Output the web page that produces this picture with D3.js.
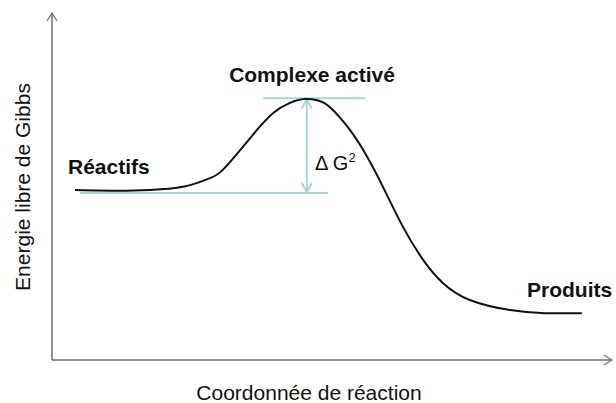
<!DOCTYPE html>
<html><head><meta charset="utf-8">
<script src="https://cdn.jsdelivr.net/npm/d3@7"></script>
<style>html,body{margin:0;padding:0;background:#fff;}svg{display:block;}</style>
</head><body>
<svg id="chart" width="616" height="403"></svg>
<script>
// Data (reaction coordinate 0-100, free energy 0-100)
const curveX = [4.1, 12.1, 17.5, 23.4, 28.2, 30.5, 33.6, 36.6, 39.5, 42.5, 45.2, 47.5, 49.6, 53.2, 56.3, 59.1, 62.7, 66.3, 69.8, 74.6, 81.8, 88.0, 94.6];
const curveY = [49.0, 48.8, 49.0, 49.9, 52.4, 54.8, 60.5, 66.3, 71.2, 74.1, 75.2, 74.8, 72.9, 66.3, 58.5, 49.9, 38.3, 28.8, 22.2, 17.3, 14.4, 13.5, 13.5];
const reactantLevel = 48.1;
const activatedLevel = 75.4;
const reactantLineX = [5.0, 49.3];
const activatedLineX = [37.7, 55.9];
const deltaArrowX = 45.5;
const labels = ["Réactifs", "Complexe activé", "Produits"];
const xTitle = "Coordonnée de réaction";
const yTitle = "Energie libre de Gibbs";

const svg = d3.select("#chart");
const x = d3.scaleLinear().domain([0, 100]).range([52, 612]);
const y = d3.scaleLinear().domain([0, 100]).range([360, 13]);
const axisColor = "#6f6f6f";
const blue = "#a6d6da";

// axes
svg.append("line").attr("x1", x(0)).attr("y1", y(0)).attr("x2", x(0)).attr("y2", y(100))
  .attr("stroke", axisColor).attr("stroke-width", 1.5);
svg.append("line").attr("x1", x(0)).attr("y1", y(0)).attr("x2", x(100)).attr("y2", y(0))
  .attr("stroke", axisColor).attr("stroke-width", 1.5);
svg.append("path").attr("d", `M${x(0)-5},${y(100)+8} L${x(0)},${y(100)} L${x(0)+5},${y(100)+8}`)
  .attr("fill", "none").attr("stroke", axisColor).attr("stroke-width", 1.2);
svg.append("path").attr("d", `M${x(100)-8},${y(0)-5} L${x(100)},${y(0)} L${x(100)-8},${y(0)+5}`)
  .attr("fill", "none").attr("stroke", axisColor).attr("stroke-width", 1.2);

// level lines
svg.append("line").attr("x1", x(reactantLineX[0])).attr("x2", x(reactantLineX[1]))
  .attr("y1", y(reactantLevel)).attr("y2", y(reactantLevel)).attr("stroke", blue).attr("stroke-width", 2);
svg.append("line").attr("x1", x(activatedLineX[0])).attr("x2", x(activatedLineX[1]))
  .attr("y1", y(activatedLevel)).attr("y2", y(activatedLevel)).attr("stroke", blue).attr("stroke-width", 2);

// double arrow
const ax = x(deltaArrowX), yTop = y(activatedLevel) + 1, yBot = y(reactantLevel) - 1;
svg.append("line").attr("x1", ax).attr("x2", ax).attr("y1", yTop).attr("y2", yBot)
  .attr("stroke", blue).attr("stroke-width", 2);
svg.append("path").attr("d", `M${ax-5},${yTop+9} L${ax},${yTop} L${ax+5},${yTop+9}`)
  .attr("fill", "none").attr("stroke", blue).attr("stroke-width", 2);
svg.append("path").attr("d", `M${ax-5},${yBot-9} L${ax},${yBot} L${ax+5},${yBot-9}`)
  .attr("fill", "none").attr("stroke", blue).attr("stroke-width", 2);

// curve
const pts = curveX.map((d, i) => [d, curveY[i]]);
svg.append("path").datum(pts)
  .attr("d", d3.line().x(d => x(d[0])).y(d => y(d[1])).curve(d3.curveNatural))
  .attr("fill", "none").attr("stroke", "#111").attr("stroke-width", 2);

// labels
const bold = {"font-family": "'Liberation Sans', Arial, sans-serif", "font-weight": "bold", "font-size": "21px", "fill": "#111"};
function lab(t, px, py, anchor) {
  const e = svg.append("text").text(t).attr("x", px).attr("y", py).attr("text-anchor", anchor);
  Object.entries(bold).forEach(([k, v]) => e.attr(k, v));
}
lab(labels[0], 68, 174, "start");
lab(labels[1], 312, 82, "middle");
lab(labels[2], 527, 297, "start");

const dg = svg.append("text").attr("x", 315).attr("y", 170)
  .attr("font-family", "'Liberation Sans', Arial, sans-serif").attr("font-size", "20px").attr("fill", "#111");
dg.append("tspan").text("Δ G");
dg.append("tspan").text("2").attr("font-size", "13px").attr("dy", -8);

svg.append("text").text(xTitle).attr("x", 309).attr("y", 400).attr("text-anchor", "middle")
  .attr("font-family", "'Liberation Sans', Arial, sans-serif").attr("font-size", "21px").attr("fill", "#111");
svg.append("text").text(yTitle).attr("transform", "translate(30,187) rotate(-90)").attr("text-anchor", "middle")
  .attr("font-family", "'Liberation Sans', Arial, sans-serif").attr("font-size", "21px").attr("fill", "#111");
</script>
</body></html>
